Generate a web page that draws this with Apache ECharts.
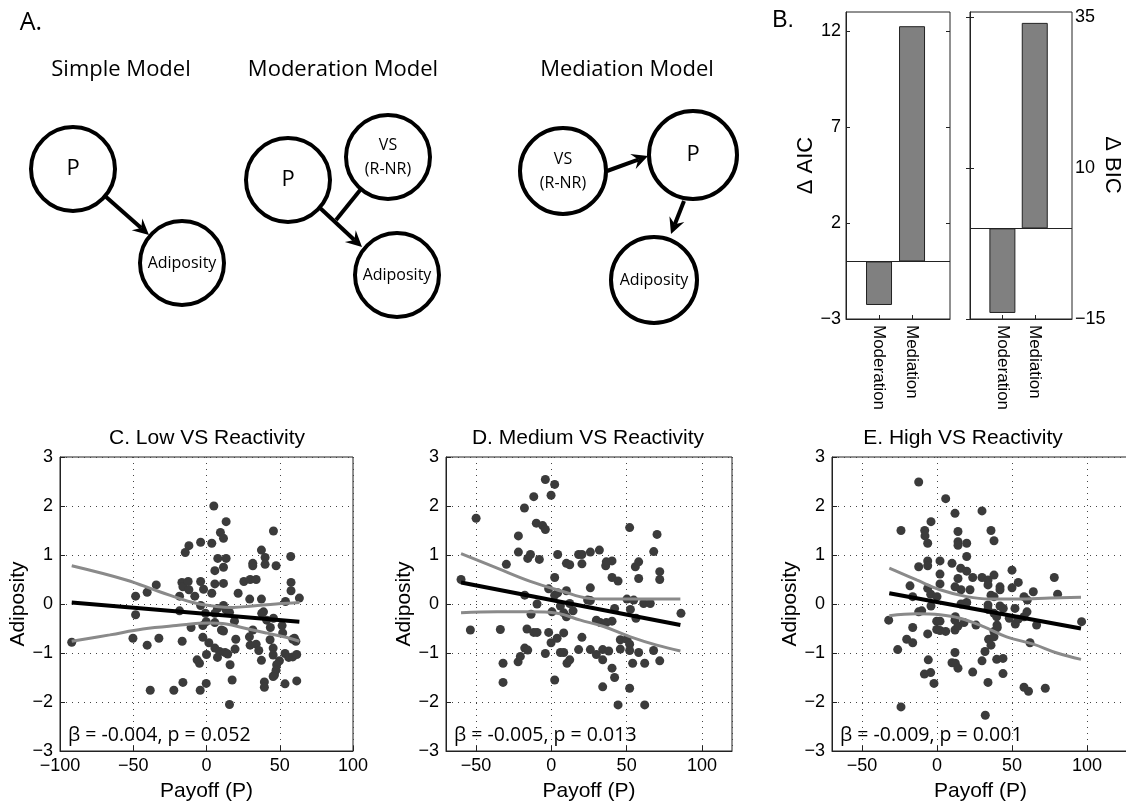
<!DOCTYPE html>
<html>
<head>
<meta charset="utf-8">
<script src="https://cdn.jsdelivr.net/npm/echarts@6/dist/echarts.min.js"></script>
<style>
html, body { margin: 0; background: #fff; }
#main { width: 1126px; height: 807px; }
</style>
</head>
<body>
<div id="main"></div>
<script>
// panel B
var models = ['Moderation', 'Mediation'];
var deltaAIC = [-2.27, 12.26];
var deltaBIC = [-14.0, 34.0];

// panels C-E : [payoff, adiposity]
var lowPoints = [[5,2.0],[13.4,1.68],[9.5,1.46],[11.6,1.34],[45.7,1.49],[-4,1.26],[3.6,1.24],[-12,1.19],[-14.5,1.05],[37.5,1.1],[40,0.95],[31.6,0.83],[31.6,0.78],[40,0.81],[47.5,0.78],[7.7,0.93],[13.4,0.93],[11.6,0.75],[5.7,0.68],[57.5,0.97],[57.7,0.44],[57.7,0.27],[63.4,0.12],[53.9,0.05],[25.5,0.46],[29.8,0.5],[33.9,0.5],[21.6,0.22],[29.5,0.1],[37.5,0.1],[-34.3,0.39],[-40.5,0.24],[-48.4,0.16],[-48.4,-0.22],[-16.8,0.44],[-16.1,0.35],[-12.5,0.46],[-12,0.29],[-8,0.16],[-18.4,0.16],[-4,0.46],[-2,0.3],[3.6,0.22],[5.7,0.41],[11.6,0.42],[-4,-0.03],[-18.4,-0.14],[7.5,-0.09],[11.6,-0.03],[13.4,-0.12],[15.7,-0.17],[-0.7,-0.19],[5.7,-0.19],[-0.2,-0.36],[5.7,-0.38],[19.1,-0.35],[-10.5,-0.48],[-2.5,-0.44],[10.2,-0.53],[11.6,-0.55],[38.9,-0.16],[37.7,-0.19],[41.1,-0.33],[43.6,-0.48],[45.7,-0.29],[51.6,-0.44],[52,-0.59],[31.6,-0.53],[-92,-0.78],[-50.2,-0.7],[-40.5,-0.84],[-32.5,-0.7],[-16.6,-0.76],[-2.5,-0.68],[60,-0.7],[61,-0.76],[29.3,-0.67],[29.8,-0.84],[33.9,-0.82],[43.4,-0.73],[20,-0.72],[1.6,-0.79],[5.7,-0.9],[0,-1.03],[8.9,-0.97],[12.7,-0.99],[7.5,-1.09],[14.5,-1.02],[19.5,-0.92],[16.1,-1.24],[17.5,-1.55],[15.7,-2.05],[-6.4,-1.14],[-4.8,-1.21],[-0.2,-1.62],[-4.3,-1.76],[-16.1,-1.6],[-22.3,-1.76],[-38.4,-1.76],[35.7,-0.95],[37.5,-1.15],[45.5,-0.9],[45.5,-1.04],[49.8,-1.16],[47.9,-1.24],[47.5,-1.35],[46.4,-1.45],[45.5,-1.48],[39.5,-1.59],[39.5,-1.7],[53.6,-1.63],[61.6,-1.57],[53.6,-1.01],[56.1,-1.09],[58.9,-1.08],[61.6,-1.03],[58.9,-0.72]];
var lowFit = [[-92,0.03],[63.4,-0.36]];
var lowUpper = [[-92,0.78],[-54.8,0.49],[-32,0.25],[-9.3,0.03],[6.6,-0.05],[18,-0.07],[31.6,-0.04],[47.5,0.0],[63.4,0.03]];
var lowLower = [[-92,-0.76],[-66,-0.63],[-43.4,-0.51],[-20.7,-0.44],[2,-0.39],[13.4,-0.41],[27,-0.5],[40.7,-0.59],[54.3,-0.68],[63.4,-0.76]];

var midPoints = [[-60,0.5],[-50,1.75],[-53.8,-0.53],[-33.9,-0.52],[-29.9,0.81],[-21.9,1.39],[-17.9,1.96],[-21.9,1.06],[-15.7,0.93],[-13.9,1.01],[-11.7,2.19],[-10,1.65],[-5.8,1.6],[-4,1.52],[-4,2.54],[2.2,2.44],[-0.2,2.22],[-8,0.91],[4.2,1.01],[2.2,0.54],[-1.8,0.31],[-17.7,0.18],[-9.5,0.0],[-13.5,-0.21],[0.4,-0.16],[2.2,0.18],[4.2,0.23],[6,-0.04],[8.2,-0.18],[10,0.27],[10,-0.26],[12.2,0.01],[14.4,-0.14],[10,0.83],[12.2,0.8],[18.1,1.01],[20.3,1.01],[20.3,0.82],[25.9,1.06],[31.9,1.1],[36.1,0.78],[36.5,0.86],[40.3,0.88],[40.3,0.54],[44.3,0.47],[25.9,0.33],[24.1,0.08],[25.9,0.07],[29.9,-0.33],[32.5,-0.38],[36.5,-0.38],[40.3,-0.35],[42,-0.09],[52,1.56],[50.2,0.1],[52.5,-0.11],[54.7,0.08],[56.2,-0.29],[55.8,0.76],[58,0.86],[58,0.52],[61.3,0.01],[65.7,0.01],[68,1.07],[70.2,1.42],[72,0.66],[72,0.5],[86.1,-0.19],[-16.2,-0.51],[-11.7,-0.58],[-9.5,-0.58],[-1.8,-0.58],[-0.2,-0.79],[3.8,-0.7],[8.2,-0.59],[20.3,-0.68],[45.8,-0.73],[50.2,-0.72],[52,-0.82],[-32.1,-1.21],[-32.1,-1.6],[-22.1,-1.18],[-20.6,-1.07],[-17.7,-0.9],[-15.7,-0.94],[-4,-1.01],[2.2,-1.55],[6,-0.99],[8.2,-0.99],[10.4,-1.21],[12.2,-1.14],[18.1,-0.93],[25.9,-0.93],[29.9,-1.03],[34.1,-0.93],[38.1,-0.96],[34.1,-1.14],[40.3,-1.31],[42,-1.5],[34.1,-1.69],[44.3,-2.06],[45.8,-0.92],[52,-0.95],[54,-1.21],[52,-1.72],[58,-0.99],[62,-1.21],[62,-2.06],[67.9,-0.95],[72,-1.16]];
var midFit = [[-60,0.44],[85.7,-0.43]];
var midUpper = [[-60,1.03],[-36,0.73],[-14,0.46],[8.2,0.25],[23.7,0.12],[37,0.1],[52.5,0.1],[85.7,0.1]];
var midLower = [[-60,-0.18],[-36,-0.16],[-14,-0.16],[3.8,-0.19],[19.3,-0.33],[34.7,-0.46],[52.5,-0.67],[70,-0.84],[85.7,-0.96]];

var highPoints = [[-12.2,2.49],[5.8,2.15],[12,1.85],[30,1.9],[-24,1.5],[-8.2,1.5],[-8,1.39],[-6.2,1.24],[-4,1.68],[14,1.48],[14,1.27],[14,1.2],[19.8,1.24],[36,1.5],[38,1.29],[19.8,0.97],[-6.2,0.88],[-6.2,0.78],[-12.2,0.76],[2,0.88],[10,0.83],[15.8,0.73],[19.8,0.67],[23.8,0.54],[2,0.61],[2,0.41],[14,0.52],[12,0.35],[16,0.29],[22,0.29],[30,0.54],[34,0.49],[34,0.39],[38,0.59],[36,0.18],[38,0.15],[42,0.35],[42,0.29],[50,0.69],[50,0.33],[54.2,0.44],[58,0.15],[60.2,0.08],[64.2,0.25],[78.2,0.54],[80.4,0.2],[-18,0.37],[-16.2,0.15],[-6.2,0.32],[-4.2,0.2],[0,0.15],[-4,-0.04],[-12.2,-0.16],[-10.2,-0.14],[-32.2,-0.33],[-16.2,-0.48],[-6.2,-0.61],[-0.2,-0.35],[2,-0.35],[-0.2,-0.52],[2,-0.54],[5.8,-0.56],[12,-0.53],[14,-0.45],[12,-0.33],[12.2,-0.26],[18,-0.38],[19.8,0.03],[16,0.0],[26,-0.43],[34,-0.02],[34,-0.11],[38,-0.19],[39.8,-0.26],[40,-0.43],[42,-0.04],[44.2,-0.09],[48.2,-0.29],[52,-0.09],[52.2,-0.41],[54.2,-0.31],[58,-0.26],[60,-0.16],[66.4,-0.43],[96.4,-0.36],[-20.2,-0.72],[-16.2,-0.79],[34.4,-0.72],[38,-0.56],[62,-0.79],[-26.2,-0.93],[-5.8,-1.14],[-8.4,-1.43],[-4.2,-1.4],[-2,-1.62],[12,-0.99],[10,-1.2],[12.2,-1.21],[14,-1.31],[23.8,-1.39],[30,-1.16],[32,-0.97],[34,-1.6],[32.2,-2.27],[36,-0.84],[38,-0.67],[39.8,-1.13],[44,-1.11],[44,-1.42],[40.2,-0.48],[58,-1.7],[61,-1.78],[72.2,-1.72],[-24,-2.1]];
var highFit = [[-31.8,0.22],[96,-0.5]];
var highUpper = [[-31.8,0.73],[-13.6,0.49],[2,0.29],[19.8,0.15],[35.3,0.1],[53,0.1],[75.3,0.12],[96,0.14]];
var highLower = [[-31.8,-0.24],[-13.6,-0.2],[2,-0.22],[15.3,-0.29],[31,-0.46],[46.4,-0.67],[64.2,-0.82],[80,-1.0],[96,-1.13]];

var panelTitles = ['C. Low VS Reactivity', 'D. Medium VS Reactivity', 'E. High VS Reactivity'];
var panelStats = ['β = -0.004, p = 0.052', 'β = -0.005, p = 0.013', 'β = -0.009, p = 0.001'];

var AX = '#222';
var SANS = 'Liberation Sans';
var MYR = 'Open Sans';

function fmt(v) { return v < 0 ? '\u2212' + Math.abs(v) : String(v); }

var chart = echarts.init(document.getElementById('main'));

var panels = [
  { pts: lowPoints, fit: lowFit, up: lowUpper, lo: lowLower, left: 60, width: 293, min: -100, max: 100, titleX: 207 },
  { pts: midPoints, fit: midFit, up: midUpper, lo: midLower, left: 446, width: 286, min: -70, max: 120, titleX: 588 },
  { pts: highPoints, fit: highFit, up: highUpper, lo: highLower, left: 832, width: 297, min: -70, max: 128, titleX: 963 }
];

var grids = [
  { left: 846, top: 12, width: 104, height: 307 },
  { left: 970, top: 12, width: 102, height: 307 }
];
var xAxes = [], yAxes = [], series = [];

// panel B bar axes
var aicTicks = [-3, 2, 7, 12], bicTicks = [-15, 10, 35];
[0, 1].forEach(function (g) {
  xAxes.push({
    gridIndex: g, type: 'value', min: 0, max: 3.15,
    axisLine: { onZero: false, lineStyle: { color: AX } },
    axisTick: { inside: true, length: 4, customValues: [1, 2], lineStyle: { color: AX } },
    axisLabel: { customValues: [1, 2], rotate: -90, margin: 6, color: '#000', fontSize: 17, fontFamily: SANS,
      formatter: function (v) { return models[Math.round(v) - 1] || ''; } },
    splitLine: { show: false }
  });
});
yAxes.push({
  gridIndex: 0, type: 'value', min: -3, max: 13, interval: 5,
  axisLine: { lineStyle: { color: AX } },
  axisTick: { inside: true, length: 4, customValues: aicTicks, lineStyle: { color: AX } },
  axisLabel: { customValues: aicTicks, formatter: fmt, color: '#000', fontSize: 18, fontFamily: SANS, margin: 5 },
  splitLine: { show: false },
  name: 'Δ AIC', nameLocation: 'middle', nameGap: 24, nameRotate: 90,
  nameTextStyle: { color: '#000', fontSize: 22, fontFamily: SANS }
});
yAxes.push({
  gridIndex: 1, type: 'value', position: 'right', min: -15, max: 35.8, interval: 25,
  axisLine: { lineStyle: { color: AX } },
  axisTick: { inside: true, length: 4, customValues: bicTicks, lineStyle: { color: AX } },
  axisLabel: { customValues: bicTicks, formatter: fmt, color: '#000', fontSize: 18, fontFamily: SANS, margin: 3 },
  splitLine: { show: false }
});
// inward ticks on the opposite box edges of panel B
yAxes.push({
  gridIndex: 0, type: 'value', position: 'right', min: -3, max: 13,
  axisLine: { show: false }, axisLabel: { show: false }, splitLine: { show: false },
  axisTick: { inside: true, length: 4, customValues: aicTicks, lineStyle: { color: AX } }
});
yAxes.push({
  gridIndex: 1, type: 'value', position: 'left', min: -15, max: 35.8,
  axisLine: { show: false }, axisLabel: { show: false }, splitLine: { show: false },
  axisTick: { inside: true, length: 4, customValues: bicTicks, lineStyle: { color: AX } }
});
[deltaAIC, deltaBIC].forEach(function (vals, g) {
  series.push({
    type: 'bar', xAxisIndex: g, yAxisIndex: g, barWidth: 26,
    data: models.map(function (m, i) { return [i + 1, vals[i]]; }),
    itemStyle: { color: '#808080', borderColor: AX, borderWidth: 1 },
    markLine: { silent: true, symbol: 'none', label: { show: false },
      lineStyle: { color: AX, type: 'solid', width: 1 }, data: [{ yAxis: 0 }] }
  });
});

// panels C-E
var graphicTexts = [];
graphicTexts.push({ type: 'text', x: 1112, y: 165, rotation: -Math.PI / 2,
  style: { text: 'Δ BIC', x: 0, y: 0, textAlign: 'center', textVerticalAlign: 'middle',
    fill: '#000', fontSize: 22, fontFamily: SANS } });
panels.forEach(function (p, k) {
  var g = k + 2;
  grids.push({ left: p.left, top: 457, width: p.width, height: 294 });
  xAxes.push({
    gridIndex: g, type: 'value', min: p.min, max: p.max,
    interval: k === 0 ? 50 : undefined, splitNumber: 4,
    axisLine: { onZero: false, lineStyle: { color: AX } },
    axisTick: { inside: true, length: 5, lineStyle: { color: AX } },
    axisLabel: { formatter: fmt, color: '#000', fontSize: 18, fontFamily: SANS, margin: 6,
      showMinLabel: k === 0, showMaxLabel: k === 0 },
    splitLine: { show: true, lineStyle: { color: '#444', type: [1, 5], width: 1 } },
    name: 'Payoff (P)', nameLocation: 'middle', nameGap: 30,
    nameTextStyle: { color: '#000', fontSize: 21, fontFamily: SANS }
  });
  yAxes.push({
    gridIndex: g, type: 'value', min: -3, max: 3, interval: 1,
    axisLine: { onZero: false, lineStyle: { color: AX } },
    axisTick: { inside: true, length: 5, lineStyle: { color: AX } },
    axisLabel: { formatter: fmt, color: '#000', fontSize: 18, fontFamily: SANS, margin: 7 },
    splitLine: { show: true, lineStyle: { color: '#444', type: [1, 5], width: 1 } },
    name: 'Adiposity', nameLocation: 'middle', nameGap: 28,
    nameTextStyle: { color: '#000', fontSize: 21, fontFamily: SANS }
  });
  var yi = yAxes.length - 1;
  series.push({
    type: 'scatter', xAxisIndex: g, yAxisIndex: yi, data: p.pts, symbolSize: 9,
    itemStyle: { color: '#3b3b3b', opacity: 1 }
  });
  [p.up, p.lo].forEach(function (d) {
    series.push({
      type: 'line', xAxisIndex: g, yAxisIndex: yi, data: d, smooth: 0.4, symbol: 'none', z: 3,
      lineStyle: { color: '#8a8a8a', width: 3 }
    });
  });
  series.push({
    type: 'line', xAxisIndex: g, yAxisIndex: yi, data: p.fit, symbol: 'none', z: 4,
    lineStyle: { color: '#000', width: 4 }
  });
  graphicTexts.push({ type: 'text', style: { text: panelTitles[k], x: p.titleX, y: 438, textAlign: 'center',
    textVerticalAlign: 'middle', fill: '#000', fontSize: 21, fontFamily: SANS } });
  graphicTexts.push({ type: 'text', z: 10, style: { text: panelStats[k], x: p.left + 8, y: 735, textAlign: 'left',
    textVerticalAlign: 'middle', fill: '#000', fontSize: 19.5, fontFamily: MYR } });
});

// panel A : model diagrams
var diagram = [];
function node(cx, cy, r, lines, size) {
  diagram.push({ type: 'circle', shape: { cx: cx, cy: cy, r: r },
    style: { fill: '#fff', stroke: '#000', lineWidth: 4 }, z: 5 });
  diagram.push({ type: 'text', z: 6, style: { text: lines, x: cx, y: cy, textAlign: 'center',
    textVerticalAlign: 'middle', fill: '#000', fontSize: size, fontFamily: MYR, lineHeight: 24 } });
}
function arrow(x1, y1, x2, y2) {
  var dx = x2 - x1, dy = y2 - y1, L = Math.sqrt(dx * dx + dy * dy), ux = dx / L, uy = dy / L;
  var hl = 16, hw = 8, nx = -uy, ny = ux;
  var bx = x2 - ux * hl, by = y2 - uy * hl;
  var mx = x2 - ux * hl * 0.65, my = y2 - uy * hl * 0.65;
  diagram.push({ type: 'line', z: 7, shape: { x1: x1, y1: y1, x2: mx, y2: my },
    style: { stroke: '#000', lineWidth: 4 } });
  diagram.push({ type: 'polygon', z: 7, shape: { points: [[x2, y2], [bx + nx * hw, by + ny * hw], [mx, my], [bx - nx * hw, by - ny * hw]] },
    style: { fill: '#000' } });
}
function label(text, x, y, size, font) {
  diagram.push({ type: 'text', style: { text: text, x: x, y: y, textAlign: 'center', textVerticalAlign: 'middle',
    fill: '#000', fontSize: size, fontFamily: font } });
}
label('A.', 31, 23, 25, MYR);
label('B.', 783, 21, 23, SANS);
label('Simple Model', 121, 70, 22, MYR);
label('Moderation Model', 343, 70, 22, MYR);
label('Mediation Model', 627, 70, 22, MYR);

node(73, 169, 42, 'P', 22);
node(182, 263, 42, 'Adiposity', 16);
arrow(105, 196, 149, 235);

node(288, 180, 42, 'P', 22);
node(388, 157, 42, 'VS\n(R-NR)', 16);
node(397, 275, 42, 'Adiposity', 16);
arrow(319, 207, 362, 247);
diagram.push({ type: 'line', z: 7, shape: { x1: 361, y1: 189, x2: 336, y2: 220 }, style: { stroke: '#000', lineWidth: 4 } });

node(563, 171, 43, 'VS\n(R-NR)', 16);
node(693, 155, 44, 'P', 22);
node(654, 280, 43, 'Adiposity', 16);
arrow(607, 171, 648, 156);
arrow(684, 201, 671, 234);

var option = {
  animation: false,
  backgroundColor: '#fff',
  grid: grids.map(function (g) {
    return Object.assign({ show: true, borderColor: AX, borderWidth: 1, backgroundColor: '#fff',
      containLabel: false, outerBoundsMode: 'none' }, g);
  }),
  xAxis: xAxes,
  yAxis: yAxes,
  series: series,
  graphic: diagram.concat(graphicTexts)
};
chart.setOption(option);
</script>
</body>
</html>
